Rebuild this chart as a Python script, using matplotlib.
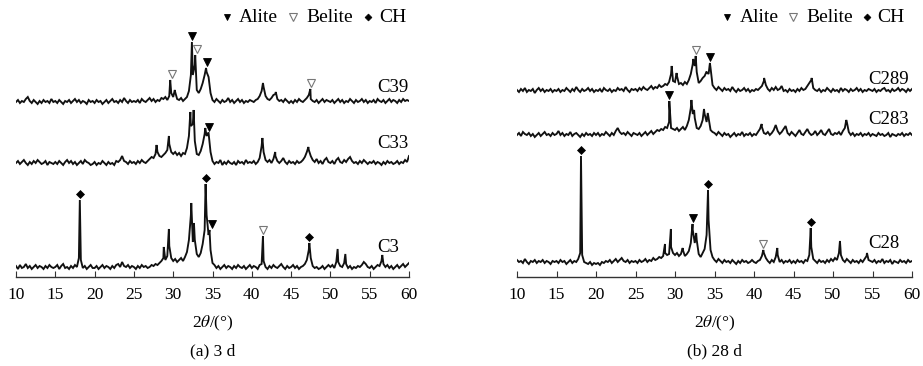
import numpy as np
import matplotlib
matplotlib.use("Agg")
import matplotlib.pyplot as plt

plt.rcParams['font.family'] = ['Liberation Serif', 'DejaVu Serif']
plt.rcParams['mathtext.fontset'] = 'stix'

#==================================================================================================================
# data : background read every 0.25 deg (10 -> 60), sharp peaks given as (2theta, intensity above background)
#==================================================================================================================

two_theta = np.linspace(10, 60, 201)

# ---- (a) 3 d
c3_background = [
    4, 1, 5, 2, 3, 6, 2, 4, 1, 3, 5, 2, 4, 3, 1, 4, 2, 5, 3, 2,
    3, 5, 1, 4, 6, 2, 3, 1, 4, 2, 5, 3, 12, 10, 2, 4, 1, 3, 5, 2,
    2, 4, 1, 3, 5, 2, 4, 3, 1, 4, 2, 5, 6, 3, 8, 4, 3, 5, 2, 4,
    3, 1, 4, 2, 5, 3, 4, 2, 3, 5, 4, 6, 5, 7, 9, 12, 10, 14, 24, 12,
    9, 11, 8, 10, 12, 9, 13, 18, 30, 55, 28, 30, 16, 13, 17, 26, 40, 55, 35, 20,
    7, 5, 2, 4, 1, 3, 5, 2, 4, 3, 1, 4, 2, 5, 3, 2, 4, 1, 3, 5,
    2, 4, 3, 1, 5, 6, 9, 3, 1, 4, 2, 5, 3, 2, 4, 6, 3, 1, 4, 2,
    3, 5, 2, 4, 1, 3, 4, 6, 10, 20, 12, 4, 2, 3, 1, 2, 4, 1, 3, 5,
    3, 5, 2, 8, 8, 4, 3, 7, 6, 2, 4, 1, 3, 2, 4, 3, 5, 8, 6, 3,
    2, 4, 1, 3, 5, 4, 9, 6, 3, 5, 2, 4, 1, 3, 5, 2, 4, 6, 3, 5,
    7]
c3_peak_pos = [18.12, 28.8, 29.45, 32.3, 32.64, 34.12, 34.62, 41.42, 47.32, 50.92, 51.9, 56.6]
c3_peak_int = [70, 23, 41, 67, 47, 86, 40, 34, 27, 21, 16, 15]
c3_phases = [(18.12, 'CH'), (34.12, 'CH'), (34.95, 'Alite'), (41.42, 'Belite'), (47.32, 'CH')]

c33_background = [
    3, 5, 2, 4, 6, 3, 1, 4, 2, 5, 3, 6, 4, 2, 3, 5, 1, 4, 3, 2,
    4, 2, 5, 3, 1, 4, 6, 3, 5, 2, 4, 1, 3, 5, 2, 6, 4, 3, 1, 2,
    4, 1, 3, 2, 5, 3, 1, 4, 2, 3, 1, 5, 4, 6, 10, 5, 4, 2, 5, 3,
    4, 2, 5, 3, 6, 4, 3, 5, 7, 9, 8, 12, 14, 10, 9, 11, 13, 16, 22, 14,
    12, 14, 11, 13, 10, 13, 12, 18, 30, 40, 42, 25, 12, 11, 15, 22, 32, 30, 33, 14,
    5, 2, 4, 3, 6, 1, 4, 2, 5, 3, 2, 4, 1, 5, 3, 4, 2, 6, 3, 4,
    3, 5, 2, 4, 8, 20, 14, 6, 4, 6, 3, 7, 10, 5, 3, 5, 8, 4, 2, 5,
    3, 4, 2, 5, 3, 4, 6, 9, 14, 16, 10, 6, 4, 7, 3, 5, 2, 6, 8, 4,
    3, 5, 2, 6, 8, 4, 3, 6, 4, 7, 9, 5, 3, 4, 2, 5, 3, 6, 4, 2,
    4, 3, 5, 2, 4, 3, 1, 4, 2, 5, 3, 4, 2, 3, 5, 2, 4, 3, 6, 4,
    10]
c33_peak_pos = [27.88, 29.45, 32.18, 32.6, 34.08, 34.45, 41.35, 42.98, 47.2]
c33_peak_int = [21, 30, 54, 56, 38, 33, 28, 14, 19]
c33_phases = [(34.55, 'Alite')]

c39_background = [
    3, 5, 2, 4, 3, 6, 8, 4, 2, 5, 3, 1, 4, 2, 5, 3, 4, 2, 6, 3,
    4, 2, 5, 3, 1, 4, 3, 5, 2, 4, 6, 3, 5, 2, 4, 3, 1, 5, 3, 4,
    2, 5, 3, 4, 1, 3, 5, 2, 4, 6, 3, 4, 2, 5, 3, 7, 4, 2, 5, 3,
    4, 3, 5, 2, 6, 4, 3, 5, 7, 4, 6, 3, 5, 4, 7, 6, 8, 5, 9, 12,
    8, 13, 6, 5, 7, 4, 6, 8, 14, 30, 30, 40, 15, 12, 16, 22, 30, 33, 28, 12,
    5, 3, 6, 4, 2, 5, 3, 4, 7, 3, 5, 2, 4, 6, 3, 5, 2, 4, 3, 5,
    4, 3, 5, 6, 9, 14, 18, 9, 6, 5, 7, 10, 11, 6, 4, 5, 3, 6, 4, 2,
    4, 2, 5, 3, 6, 4, 3, 5, 7, 10, 6, 4, 3, 5, 2, 4, 6, 3, 5, 4,
    3, 5, 2, 4, 6, 3, 5, 2, 4, 3, 6, 4, 2, 5, 3, 4, 6, 3, 5, 2,
    4, 3, 5, 2, 6, 4, 3, 5, 2, 4, 6, 3, 5, 4, 2, 5, 3, 6, 4, 5,
    4]
c39_peak_pos = [29.62, 30.2, 32.38, 32.8, 34.18, 41.42, 43.05, 47.45]
c39_peak_int = [25, 15, 63, 50, 37, 22, 13, 16]
c39_phases = [(29.8, 'Belite'), (32.4, 'Alite'), (33.05, 'Belite'), (34.3, 'Alite'), (47.5, 'Belite')]

# ---- (b) 28 d
c28_background = [
    5, 3, 4, 2, 6, 3, 1, 4, 3, 5, 2, 4, 3, 5, 2, 4, 3, 1, 4, 3,
    4, 2, 5, 3, 4, 1, 3, 5, 2, 4, 3, 6, 12, 10, 3, 2, 1, 3, 0, 2,
    1, 2, 0, 3, 2, 4, 3, 5, 2, 4, 6, 3, 5, 7, 4, 3, 5, 2, 4, 3,
    4, 2, 5, 3, 4, 6, 3, 5, 4, 7, 5, 6, 8, 7, 9, 12, 10, 11, 18, 12,
    10, 12, 9, 11, 15, 9, 11, 14, 22, 35, 22, 25, 11, 8, 12, 16, 30, 45, 15, 8,
    5, 3, 6, 4, 2, 5, 3, 4, 2, 5, 3, 1, 4, 2, 5, 3, 4, 2, 3, 5,
    3, 2, 4, 5, 9, 12, 7, 4, 2, 5, 3, 8, 10, 3, 5, 2, 4, 3, 5, 2,
    4, 2, 5, 3, 4, 2, 5, 4, 10, 18, 6, 4, 2, 5, 3, 4, 2, 5, 3, 6,
    4, 7, 5, 12, 10, 5, 3, 6, 4, 2, 5, 3, 4, 2, 5, 3, 6, 9, 5, 4,
    3, 5, 2, 4, 3, 6, 2, 4, 3, 5, 1, 4, 3, 2, 5, 3, 4, 2, 5, 3,
    4]
c28_peak_pos = [18.1, 28.73, 29.48, 30.97, 32.22, 32.68, 34.18, 41.18, 42.95, 47.18, 50.88, 54.3]
c28_peak_int = [109, 21, 36, 17, 41, 32, 75, 15, 17, 37, 24, 12]
c28_phases = [(18.1, 'CH'), (32.22, 'Alite'), (34.18, 'CH'), (41.18, 'Belite'), (47.18, 'CH')]

c283_background = [
    3, 5, 2, 6, 4, 3, 5, 2, 4, 1, 3, 5, 2, 4, 6, 3, 4, 2, 5, 3,
    4, 7, 3, 5, 2, 4, 3, 6, 2, 4, 5, 3, 1, 4, 2, 5, 3, 4, 2, 5,
    3, 5, 2, 4, 3, 6, 4, 2, 5, 3, 7, 10, 6, 4, 5, 3, 6, 4, 2, 5,
    4, 3, 5, 2, 4, 6, 3, 5, 7, 4, 6, 8, 7, 9, 8, 11, 10, 16, 10, 9,
    8, 10, 7, 9, 11, 8, 12, 18, 30, 24, 20, 10, 9, 12, 18, 24, 16, 20, 8, 6,
    5, 3, 6, 4, 2, 5, 3, 4, 1, 3, 5, 2, 4, 3, 6, 2, 4, 3, 5, 2,
    4, 3, 6, 9, 11, 5, 4, 6, 3, 5, 8, 13, 7, 4, 6, 9, 12, 5, 3, 6,
    4, 2, 5, 8, 4, 3, 6, 9, 5, 3, 4, 7, 3, 5, 8, 4, 3, 6, 9, 4,
    3, 5, 4, 6, 3, 7, 10, 16, 6, 3, 5, 2, 4, 3, 5, 2, 4, 3, 5, 2,
    4, 3, 2, 5, 3, 4, 2, 3, 5, 1, 4, 3, 2, 4, 3, 5, 2, 4, 3, 5,
    3]
c283_peak_pos = [29.28, 32.08, 32.42, 33.67, 34.15, 40.97, 51.68]
c283_peak_int = [37, 38, 28, 29, 25, 14, 18]
c283_phases = [(29.28, 'Alite')]

c289_background = [
    4, 2, 5, 3, 6, 2, 4, 3, 5, 1, 4, 6, 3, 5, 2, 4, 3, 5, 2, 4,
    3, 5, 2, 4, 3, 6, 4, 2, 5, 3, 7, 4, 2, 5, 3, 4, 6, 3, 5, 2,
    4, 3, 5, 2, 6, 4, 3, 5, 2, 4, 3, 6, 4, 5, 3, 7, 4, 2, 5, 4,
    5, 3, 6, 4, 7, 5, 4, 6, 8, 5, 7, 6, 9, 7, 8, 10, 9, 12, 20, 13,
    12, 18, 10, 11, 9, 12, 10, 14, 20, 30, 28, 22, 11, 13, 16, 18, 22, 20, 26, 9,
    6, 4, 7, 5, 3, 6, 4, 5, 3, 7, 4, 2, 5, 3, 4, 6, 3, 5, 2, 4,
    3, 5, 4, 6, 8, 13, 9, 5, 3, 6, 4, 7, 4, 5, 8, 3, 4, 2, 5, 3,
    4, 2, 5, 3, 6, 4, 5, 8, 11, 14, 6, 4, 3, 5, 2, 4, 3, 6, 4, 2,
    5, 3, 4, 2, 6, 3, 5, 4, 2, 5, 3, 4, 6, 3, 5, 2, 4, 3, 5, 4,
    3, 5, 2, 4, 3, 5, 6, 3, 4, 2, 5, 3, 4, 6, 3, 5, 4, 2, 5, 3,
    5]
c289_peak_pos = [29.58, 30.2, 32.3, 32.62, 33.97, 34.42, 41.28, 47.3]
c289_peak_int = [28, 21, 35, 38, 22, 31, 16, 16]
c289_phases = [(32.65, 'Belite'), (34.45, 'Alite')]

#==================================================================================================================

PHASE_STYLE = {
    'Alite':  dict(marker='v', ms=5.5, mfc='black', mec='black', mew=0.6),
    'Belite': dict(marker='v', ms=6, mfc='white', mec='#777777', mew=0.8),
    'CH':     dict(marker='D', ms=4, mfc='black', mec='black', mew=0.5),
}


def build_trace(background, peak_pos, peak_int):
    x = np.concatenate([two_theta, peak_pos])
    y = np.concatenate([background, peak_int]).astype(float)
    order = np.argsort(x)
    return x[order], y[order]


def plot_pattern(ax, background, peak_pos, peak_int, phases, offset, name, label_xy):
    x, y = build_trace(background, peak_pos, peak_int)
    y = y + offset
    ax.plot(x, y, color='#111111', lw=1.35, solid_joinstyle='miter')
    for pos, phase in phases:
        top = y[np.abs(x - pos) <= 0.35].max()
        ax.plot(pos, top + 6, ls='none', clip_on=False, **PHASE_STYLE[phase])
    ax.text(label_xy[0], label_xy[1], name, fontsize=13.5, ha='left', va='center')


def dress_axis(ax, caption, legend_x):
    ax.set_xlim(10, 60)
    ax.set_ylim(0, 277)
    for side in ['top', 'left', 'right']:
        ax.spines[side].set_visible(False)
    ax.spines['bottom'].set_color('#333333')
    ax.spines['bottom'].set_linewidth(1.0)
    ax.set_yticks([])
    ax.set_xticks(range(10, 61, 5))
    ax.tick_params(axis='x', direction='in', length=4, width=0.8, color='#333333', pad=7, labelsize=12.5)
    ax.text(0.5, -0.166, r'2$\theta$/(°)', transform=ax.transAxes, ha='center', va='center', fontsize=12.5)
    ax.text(0.5, -0.268, caption, transform=ax.transAxes, ha='center', va='center', fontsize=12.5)

    # legend of the phases
    mk_a, txt_a, mk_b, txt_b, mk_c, txt_c = legend_x
    ax.plot(mk_a, 260, ls='none', clip_on=False, **dict(PHASE_STYLE['Alite'], ms=5))
    ax.text(txt_a, 260, 'Alite', fontsize=14, ha='left', va='center')
    ax.plot(mk_b, 260, ls='none', clip_on=False, **dict(PHASE_STYLE['Belite'], ms=5.5))
    ax.text(txt_b, 260, 'Belite', fontsize=14, ha='left', va='center')
    ax.plot(mk_c, 260, ls='none', clip_on=False, **dict(PHASE_STYLE['CH'], ms=3.5))
    ax.text(txt_c, 260, 'CH', fontsize=14, ha='left', va='center')


def main():
    fig = plt.figure(figsize=(9.23, 3.66), dpi=100)
    ax1 = fig.add_axes([16 / 923, 89 / 366, 393 / 923, 277 / 366])
    ax2 = fig.add_axes([517 / 923, 89 / 366, 395 / 923, 277 / 366])

    plot_pattern(ax1, c39_background, c39_peak_pos, c39_peak_int, c39_phases, 172, 'C39', (55.9, 190))
    plot_pattern(ax1, c33_background, c33_peak_pos, c33_peak_int, c33_phases, 111, 'C33', (55.9, 133))
    plot_pattern(ax1, c3_background, c3_peak_pos, c3_peak_int, c3_phases, 7, 'C3', (55.9, 29))
    dress_axis(ax1, '(a) 3 d', (36.85, 38.4, 45.2, 46.9, 54.8, 56.2))

    plot_pattern(ax2, c289_background, c289_peak_pos, c289_peak_int, c289_phases, 183, 'C289', (54.4, 198))
    plot_pattern(ax2, c283_background, c283_peak_pos, c283_peak_int, c283_phases, 139, 'C283', (54.4, 157))
    plot_pattern(ax2, c28_background, c28_peak_pos, c28_peak_int, c28_phases, 12, 'C28', (54.4, 34))
    dress_axis(ax2, '(b) 28 d', (36.55, 38.2, 44.9, 46.6, 54.3, 55.6))

    fig.savefig('out.png', dpi=100)


if __name__ == "__main__":
    main()
